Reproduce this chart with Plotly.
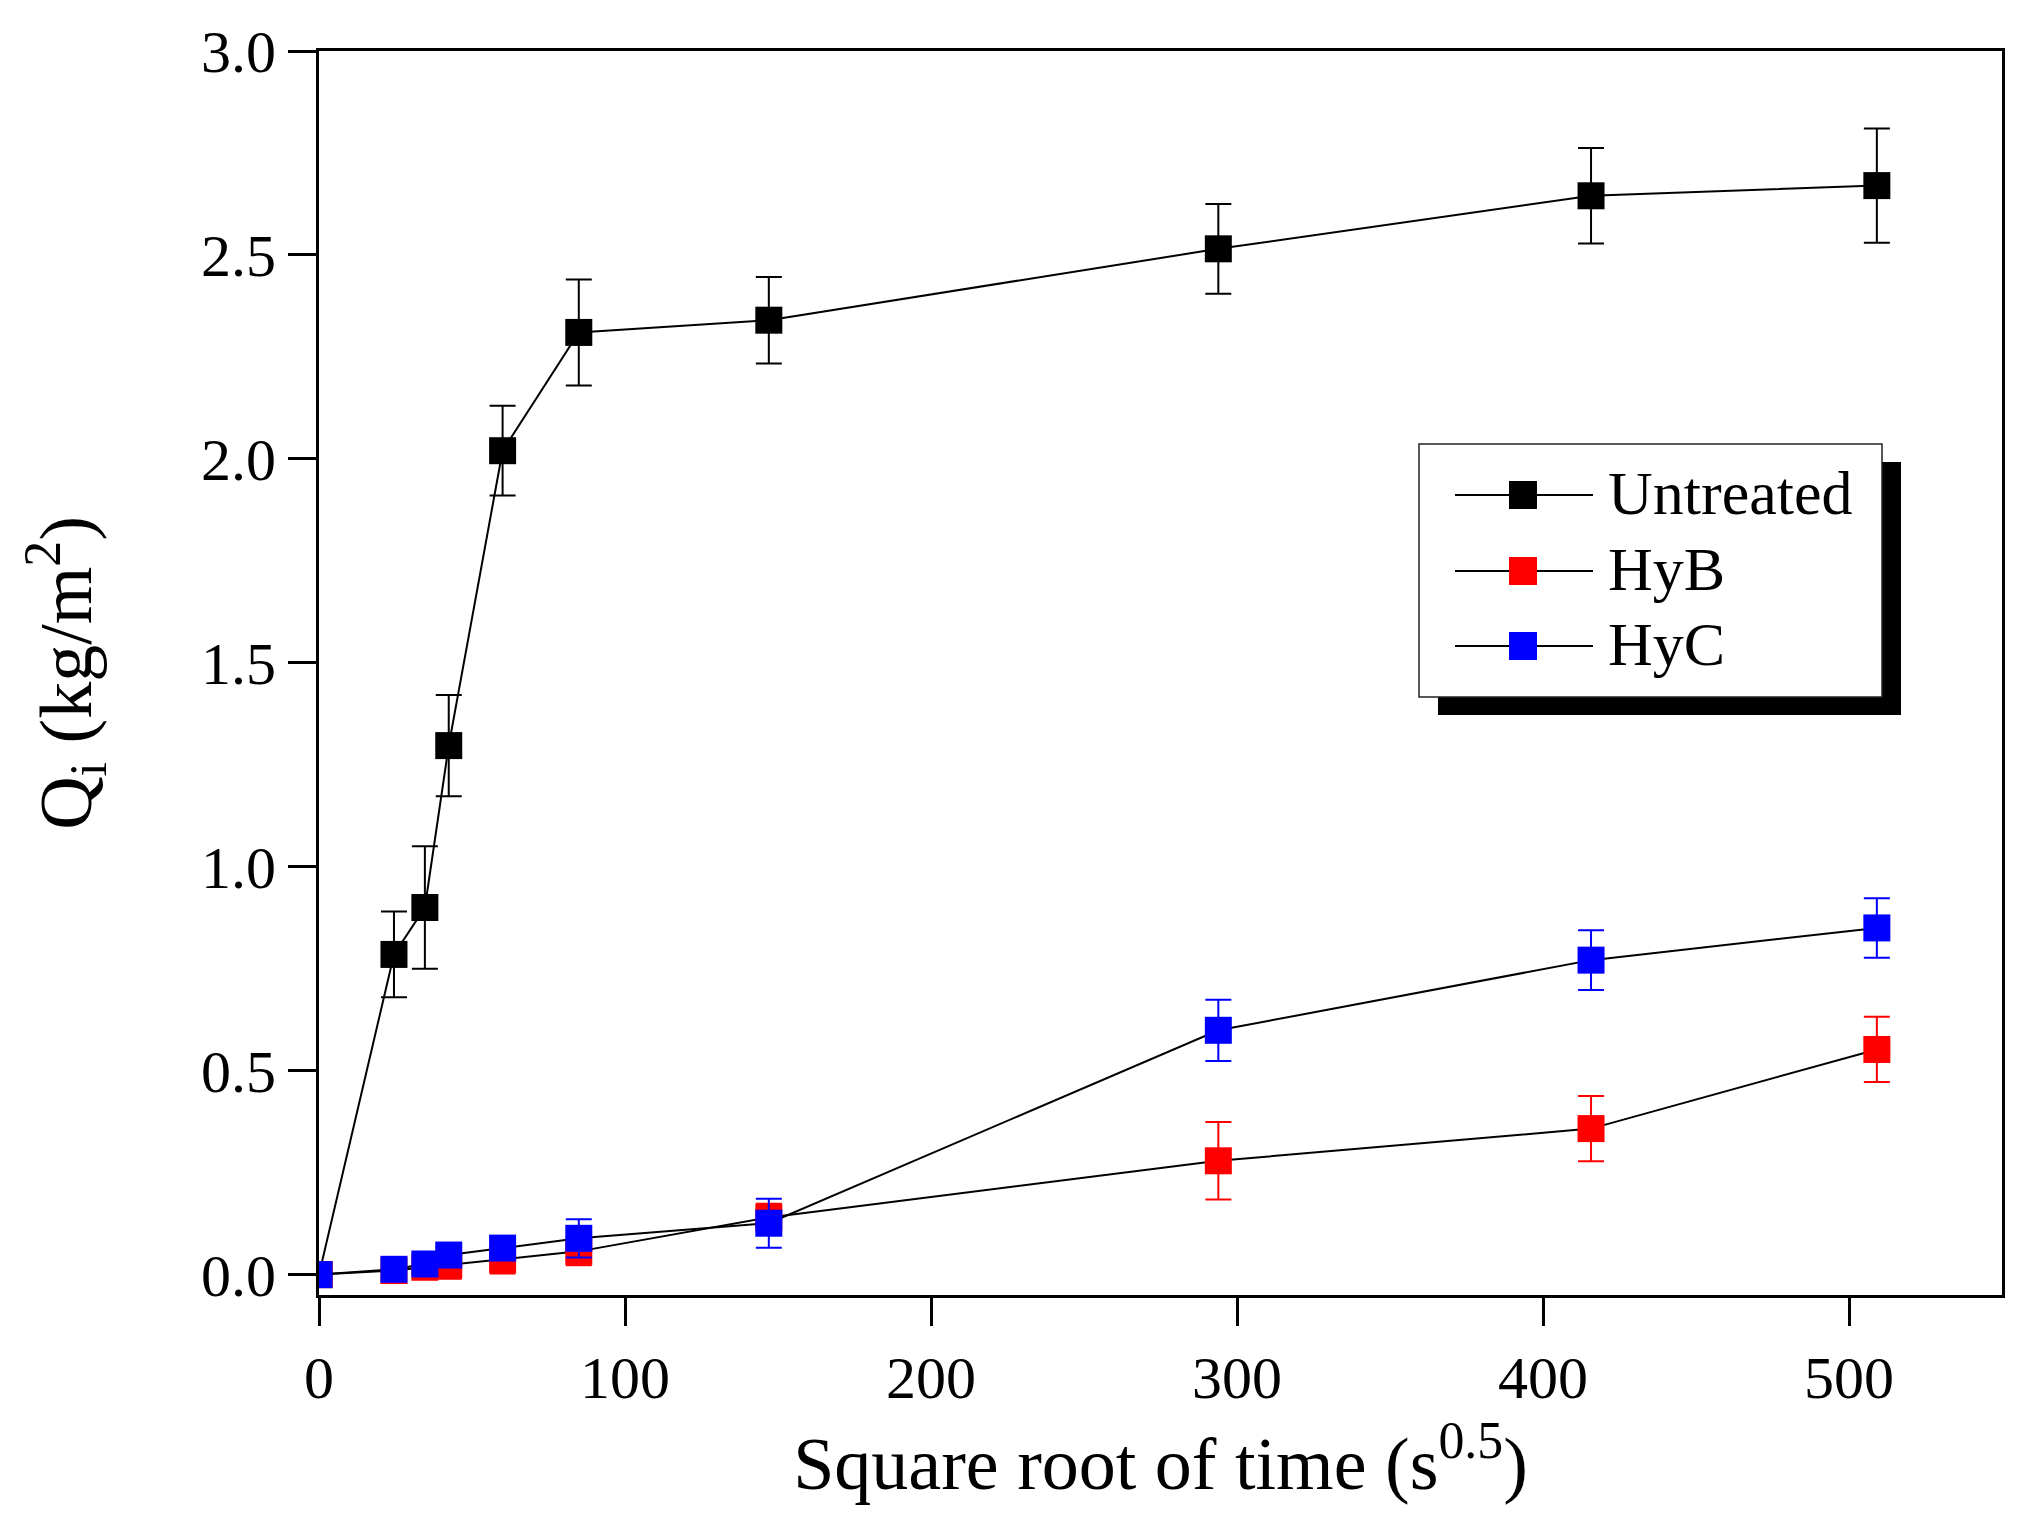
import plotly.graph_objects as go

# ---- data ----
sqrt_time = [0, 24.5, 34.6, 42.4, 60.0, 84.9, 147.0, 293.9, 415.7, 509.1]

untreated = [0, 0.785, 0.90, 1.297, 2.02, 2.31, 2.34, 2.515, 2.645, 2.67]
untreated_err = [0, 0.105, 0.15, 0.124, 0.11, 0.13, 0.106, 0.11, 0.117, 0.14]

hyb = [0, 0.010, 0.018, 0.024, 0.037, 0.057, 0.140, 0.279, 0.358, 0.552]
hyb_err = [0, 0.005, 0.016, 0.034, 0.034, 0.034, 0.034, 0.095, 0.08, 0.08]

hyc = [0, 0.013, 0.026, 0.048, 0.065, 0.089, 0.126, 0.599, 0.771, 0.850]
hyc_err = [0, 0.01, 0.015, 0.02, 0.02, 0.047, 0.06, 0.075, 0.073, 0.073]

series_names = ["Untreated", "HyB", "HyC"]
series_values = [untreated, hyb, hyc]
series_errors = [untreated_err, hyb_err, hyc_err]
series_colors = ["#000000", "#ff0000", "#0000ff"]

x_ticks = [0, 100, 200, 300, 400, 500]
y_ticks = [0, 0.5, 1.0, 1.5, 2.0, 2.5, 3.0]

FONT = "Liberation Serif"

fig = go.Figure()
for name, vals, errs, col in zip(series_names, series_values, series_errors, series_colors):
    fig.add_trace(go.Scatter(
        x=sqrt_time, y=vals, name=name, mode="lines+markers",
        showlegend=False,
        line=dict(color="black", width=2),
        marker=dict(symbol="square", size=27, color=col, line=dict(width=0)),
        error_y=dict(type="data", array=errs, visible=True, color=col,
                     thickness=2, width=13),
    ))

W, H = 2030, 1520
ml, mr, mt, mb = 319, 28, 51, 225
pw = W - ml - mr
ph = H - mt - mb


def px(xp):
    return (xp - ml) / pw


def py(yp):
    return 1 - (yp - mt) / ph


# ---- legend (drawn as layout decoration) ----
shapes = [
    dict(type="rect", xref="paper", yref="paper",
         x0=px(1438), x1=px(1901), y0=py(715), y1=py(462),
         fillcolor="black", line=dict(width=0), layer="above"),
    dict(type="rect", xref="paper", yref="paper",
         x0=px(1419), x1=px(1882), y0=py(697), y1=py(444),
         fillcolor="white", line=dict(color="#222222", width=1.5), layer="above"),
]
annotations = []
row_y = [495, 571, 646]
for name, col, ry in zip(series_names, series_colors, row_y):
    shapes.append(dict(type="line", xref="paper", yref="paper",
                       x0=px(1455), x1=px(1593), y0=py(ry), y1=py(ry),
                       line=dict(color="black", width=2), layer="above"))
    shapes.append(dict(type="rect", xref="paper", yref="paper",
                       xsizemode="pixel", ysizemode="pixel",
                       xanchor=px(1523), yanchor=py(ry),
                       x0=-14, x1=14, y0=-14, y1=14,
                       fillcolor=col, line=dict(width=0), layer="above"))
    annotations.append(dict(xref="paper", yref="paper", x=px(1606), y=py(ry),
                            xanchor="left", yanchor="middle", showarrow=False,
                            text=name, yshift=2,
                            font=dict(family=FONT, size=62, color="black")))

fig.update_layout(
    width=W, height=H,
    margin=dict(l=ml, r=mr, t=mt, b=mb),
    paper_bgcolor="white", plot_bgcolor="white",
    font=dict(family=FONT, color="black", size=60),
    showlegend=False,
    shapes=shapes,
    annotations=annotations,
)

fig.update_xaxes(
    range=[0, 550], tickvals=x_ticks,
    showgrid=False, zeroline=False,
    showline=True, linecolor="black", linewidth=3, mirror=True,
    ticks="outside", ticklen=28, tickwidth=3, tickcolor="black",
    tickfont=dict(family=FONT, size=60),
    title=dict(text="Square root of time (s<sup>0.5</sup>)",
               font=dict(family=FONT, size=74), standoff=28),
)
fig.update_yaxes(
    range=[-0.05, 3.0], tickvals=y_ticks,
    tickformat=".1f",
    showgrid=False, zeroline=False,
    showline=True, linecolor="black", linewidth=3, mirror=True,
    ticks="outside", ticklen=28, tickwidth=3, tickcolor="black",
    tickfont=dict(family=FONT, size=60),
    title=dict(text="Q<sub>i</sub> (kg/m<sup>2</sup>)",
               font=dict(family=FONT, size=74), standoff=86),
)

fig.write_html("out.html", config={"displayModeBar": False},
               post_script="document.body.style.margin='0';")
